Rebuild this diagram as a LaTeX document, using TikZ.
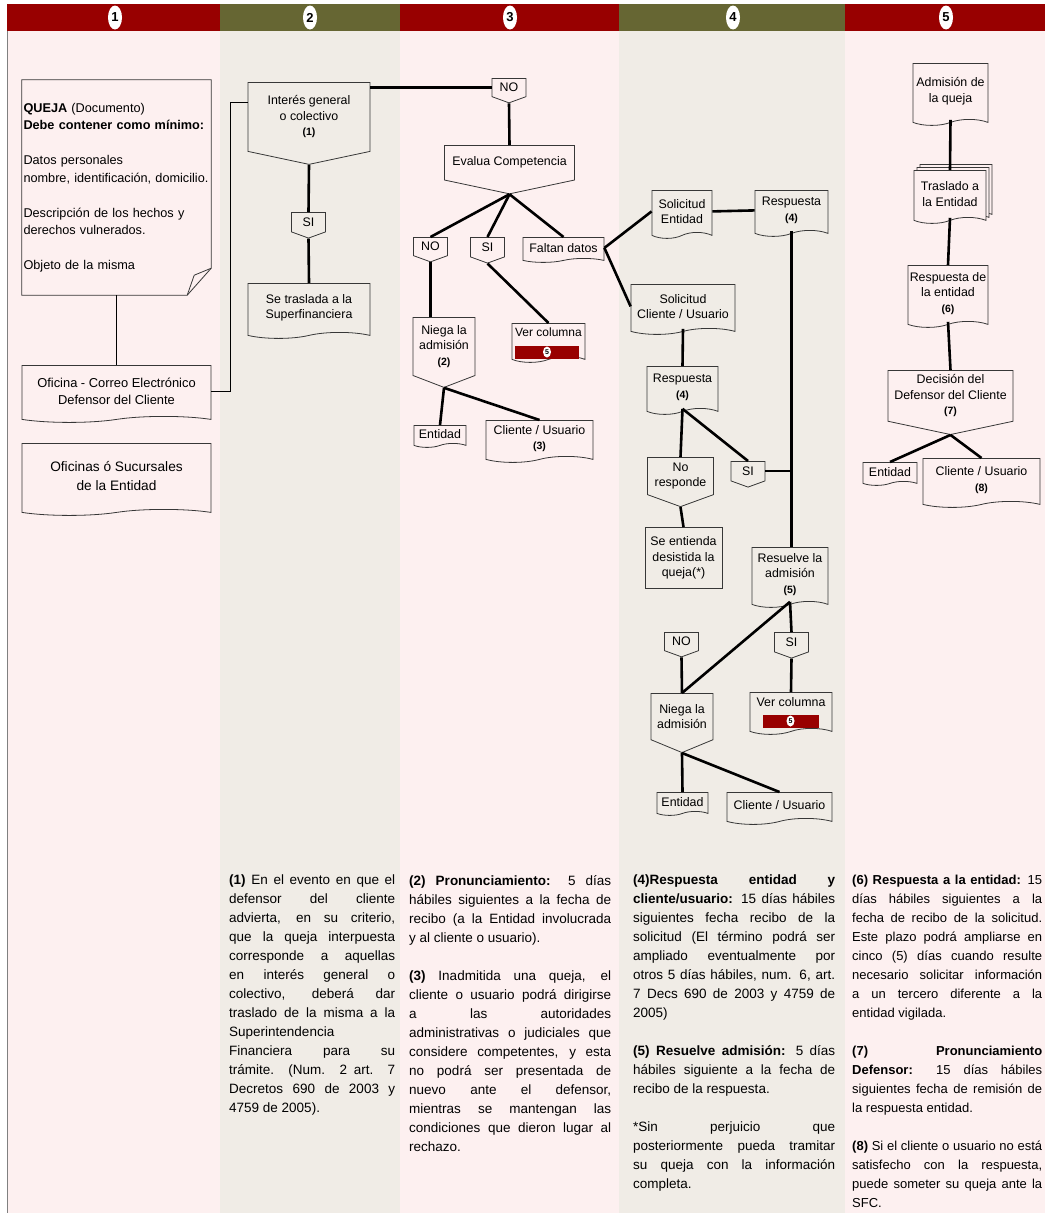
\documentclass[tikz,border=0pt]{standalone}
\usepackage{fontspec}
\setmainfont{Liberation Sans}
\usetikzlibrary{shapes.geometric,shapes.symbols,shadows}
\definecolor{hdred}{RGB}{152,0,0}
\definecolor{hdolive}{RGB}{102,102,51}
\definecolor{bgpink}{RGB}{253,240,240}
\definecolor{bggrey}{RGB}{240,236,230}
\definecolor{boxline}{RGB}{55,55,55}
\setlength{\parindent}{0pt}
\hbadness=10000 \hfuzz=6pt
\newcommand{\boxfont}{\fontsize{12.4}{15.5}\selectfont}
\newcommand{\numfont}{\bfseries\fontsize{10.5}{12}\selectfont}
\newcommand{\notefont}{\fontsize{13.5}{19}\selectfont\tolerance=10000\hyphenpenalty=10000}
\newcommand{\notegap}{\par\vskip 19pt}

\begin{document}
\begin{tikzpicture}[x=1pt, y=-1pt]
\tikzstyle{doc}=[tape, tape bend top=none, tape bend height=6pt, draw=boxline, line width=0.8pt, align=center, inner sep=1pt, font=\boxfont]
\tikzstyle{pent}=[signal, signal to=south, draw=boxline, line width=0.8pt, align=center, inner sep=1pt, font=\boxfont]
\tikzstyle{tag}=[pent, minimum width=34, minimum height=22, signal pointer angle=140]
\tikzstyle{plain}=[rectangle, draw=boxline, line width=0.8pt, align=center, font=\boxfont]
\tikzstyle{conn}=[line width=2.6pt]
\tikzstyle{thinconn}=[line width=0.8pt]
\tikzstyle{badge}=[ellipse, fill=white, inner sep=0pt, minimum width=14, minimum height=24, font=\bfseries\fontsize{13}{13}\selectfont]
\tikzstyle{minibadge}=[ellipse, fill=white, inner sep=0pt, minimum width=8, minimum height=11, font=\bfseries\fontsize{7}{7}\selectfont]
\tikzstyle{bar}=[fill=hdred, minimum height=13, inner sep=0pt]
\tikzstyle{note}=[anchor=north west, inner sep=0pt, align=justify, font=\notefont]

\useasboundingbox (0,0) rectangle (1045,1213);
\fill[white] (0,0) rectangle (1045,1213);
\foreach \xa/\xb/\hc/\bc in {7/220/hdred/bgpink, 220/400/hdolive/bggrey, 400/619/hdred/bgpink, 619/845/hdolive/bggrey, 845/1045/hdred/bgpink}{
  \fill[\bc] (\xa,31) rectangle (\xb,1213);
  \fill[\hc] (\xa,4) rectangle (\xb,31);
}
\draw[gray, line width=0.6pt] (7,31) -- (7,1213);
\node[badge] (h1) at (115,17.5) {1};
\node[badge] (h2) at (310,17.5) {2};
\node[badge] (h3) at (510,17.5) {3};
\node[badge] (h4) at (733,17.5) {4};
\node[badge] (h5) at (946,17.5) {5};

\node[align=left, minimum width=189, minimum height=215, text width=186, inner sep=1.5pt, font=\fontsize{12.7}{17.5}\selectfont] (queja) at (116.5,187.5) {\textbf{QUEJA} (Documento)\\
\textbf{Debe contener como mínimo:}\\[17.5pt]
Datos personales\\
nombre, identificación, domicilio.\\[17.5pt]
Descripción de los hechos y\\
derechos vulnerados.\\[17.5pt]
Objeto de la misma};
\draw[boxline, line width=0.8pt] (queja.north west) -- (queja.north east) -- ([yshift=27]queja.south east) -- ([xshift=-24]queja.south east) -- (queja.south west) -- cycle;
\draw[boxline, line width=0.8pt] ([yshift=27]queja.south east) -- ([xshift=-17,yshift=20]queja.south east) -- ([xshift=-24]queja.south east);
\node[doc, minimum width=189, minimum height=57, font=\fontsize{12.9}{17}\selectfont, anchor=north] (ofi) at (116.5,365) {Oficina - Correo Electrónico\\Defensor del Cliente};
\node[doc, minimum width=189, minimum height=72, font=\fontsize{13.7}{19}\selectfont, anchor=north] (suc) at (116.5,443) {Oficinas ó Sucursales\\de la Entidad};

\node[pent, minimum width=122, minimum height=78, signal pointer angle=156, anchor=north] (intg) at (309,82) {Interés general\\o colectivo\\{\numfont (1)}};
\node[tag, anchor=north] (si1) at (308.5,212) {SI};
\node[doc, minimum width=122, minimum height=55, anchor=north] (sup) at (309,283) {Se traslada a la\\Superfinanciera};

\node[tag, anchor=north] (no1) at (509,78) {NO};
\node[pent, minimum width=130, minimum height=47, signal pointer angle=156, anchor=north] (eval) at (509.5,145) {Evalua Competencia};
\node[tag, anchor=north] (no2) at (430.5,237) {NO};
\node[tag, anchor=north] (si2) at (487.5,237) {SI};
\node[doc, minimum width=81, minimum height=25, tape bend height=4pt, anchor=north] (falt) at (563.5,237) {Faltan datos};
\node[pent, minimum width=62, minimum height=68, signal pointer angle=138, anchor=north] (niega1) at (444,317) {Niega la\\admisión\\{\numfont (2)}};
\node[doc, minimum width=73, minimum height=39, text height=9pt, text depth=16pt, font=\fontsize{12}{15}\selectfont, anchor=north] (vc1) at (548.5,323) {Ver columna};
\node[bar, minimum width=64] (vc1bar) at (547,352) {};
\node[minibadge] (vc1num) at (vc1bar) {5};
\node[doc, minimum width=52, minimum height=22, tape bend height=4pt, anchor=north] (ent1) at (440,425) {Entidad};
\node[doc, minimum width=107, minimum height=42, anchor=north] (cli1) at (539.5,420) {Cliente / Usuario\\{\numfont (3)}};

\node[doc, minimum width=60, minimum height=48, anchor=north] (sole) at (682,190) {Solicitud\\Entidad};
\node[doc, minimum width=73, minimum height=46, anchor=north] (resp1) at (791.5,190) {Respuesta\\{\numfont (4)}};
\node[doc, minimum width=104, minimum height=50, anchor=north] (solc) at (683,284) {Solicitud\\Cliente / Usuario};
\node[doc, minimum width=71, minimum height=48, anchor=north] (resp2) at (682.5,366) {Respuesta\\{\numfont (4)}};
\node[pent, minimum width=66, minimum height=47, signal pointer angle=140, anchor=north] (noresp) at (680.5,457) {No\\responde};
\node[tag, anchor=north] (si3) at (748,461) {SI};
\node[plain, minimum width=77, minimum height=61, anchor=north] (desist) at (683.5,527) {Se entienda\\desistida la\\queja(*)};
\node[doc, minimum width=76, minimum height=60, anchor=north] (resu) at (790,547) {Resuelve la\\admisión\\{\numfont (5)}};
\node[tag, anchor=north] (no3) at (681.5,632) {NO};
\node[tag, anchor=north] (si4) at (791.5,632) {SI};
\node[pent, minimum width=62, minimum height=57, signal pointer angle=135, anchor=north] (niega2) at (682,693) {Niega la\\admisión};
\node[doc, minimum width=82, minimum height=42, text height=9pt, text depth=16pt, anchor=north] (vc2) at (791,692) {Ver columna};
\node[bar, minimum width=56] (vc2bar) at (790.5,721) {};
\node[minibadge] (vc2num) at (vc2bar) {5};
\node[doc, minimum width=51, minimum height=23, tape bend height=4pt, anchor=north] (ent2) at (682.5,792) {Entidad};
\node[doc, minimum width=105, minimum height=32, anchor=north] (cli2) at (779.5,792) {Cliente / Usuario};

\node[doc, minimum width=75, minimum height=62, anchor=north] (adm) at (950.5,63) {Admisión de\\la queja};
\node[doc, fill=bgpink, double copy shadow={shadow xshift=3pt, shadow yshift=3pt, fill=bgpink, draw=boxline}, minimum width=72, minimum height=53, anchor=north] (tras) at (950,170) {Traslado a\\la Entidad};
\node[doc, minimum width=80, minimum height=62, anchor=north] (resp6) at (948,265) {Respuesta de\\la entidad\\{\numfont (6)}};
\node[pent, minimum width=125, minimum height=63, signal pointer angle=156, anchor=north] (dec) at (950.5,370) {Decisión del\\Defensor del Cliente\\{\numfont (7)}};
\node[doc, minimum width=54, minimum height=23, tape bend height=4pt, anchor=north] (ent3) at (890,462) {Entidad};
\node[doc, minimum width=117, minimum height=49, anchor=north] (cli3) at (981.5,458) {Cliente / Usuario\\{\numfont (8)}};

\coordinate (j1) at (230,102);
\draw[line width=1.6pt] (queja.south) -- (ofi.north);
\draw[thinconn] (ofi.east) -| (j1) -- (j1 -| intg.west);
\draw[conn] (intg.south) -- (si1.north);
\draw[conn] (si1.south) -- (sup.north);
\draw[conn] (intg.north east |- no1.west) -- (no1.west);
\draw[conn] (no1.south) -- (eval.north);
\draw[conn] (eval.south) -- (no2.north);
\draw[conn] (eval.south) -- (si2.north);
\draw[conn] (eval.south) -- (falt.north);
\draw[conn] (no2.south) -- (no2.south |- niega1.north);
\draw[conn] (si2.south) -- (vc1.north);
\draw[conn] (niega1.south) -- (ent1.north);
\draw[conn] (niega1.south) -- (cli1.north);
\draw[conn] (falt.east) -- (sole.west);
\draw[conn] (falt.east) -- (solc.west);
\draw[conn] (sole.east) -- (resp1.west);
\draw[conn] (resp1.south) -- (resp1.south |- resu.north);
\draw[conn] (si3.east) -- (si3.east -| resp1.south);
\draw[conn] (solc.south) -- (resp2.north);
\draw[conn] (resp2.south) -- (noresp.north);
\draw[conn] (resp2.south) -- (si3.north);
\draw[conn] (noresp.south) -- (desist.north);
\draw[conn] (resu.south) -- (si4.north);
\draw[conn] (si4.south) -- (vc2.north);
\draw[conn] (resu.south) -- (niega2.north);
\draw[conn] (no3.south) -- (niega2.north);
\draw[conn] (niega2.south) -- (ent2.north);
\draw[conn] (niega2.south) -- (cli2.north);
\draw[conn] (adm.south) -- (tras.north);
\draw[conn] (tras.south) -- (resp6.north);
\draw[conn] (resp6.south) -- (dec.north);
\draw[conn] (dec.south) -- (ent3.north);
\draw[conn] (dec.south) -- (cli3.north);

\node[note, text width=166] (n1) at (229,875) {\textbf{(1)} En el evento en que el\linebreak defensor del cliente\linebreak advierta, en su criterio,\linebreak que la queja interpuesta\linebreak corresponde a aquellas\linebreak en interés general o\linebreak colectivo, deberá dar\linebreak traslado de la misma a la\linebreak Superintendencia\linebreak Financiera para su\linebreak trámite. (Num. 2 art. 7\linebreak Decretos 690 de 2003 y\linebreak 4759 de 2005).};
\node[note, text width=202] (n2) at (409,875) {\textbf{(2) Pronunciamiento:} 5 días\linebreak hábiles siguientes a la fecha de\linebreak recibo (a la Entidad involucrada\linebreak y al cliente o usuario).\notegap
\textbf{(3)} Inadmitida una queja, el\linebreak cliente o usuario podrá dirigirse\linebreak a las autoridades\linebreak administrativas o judiciales que\linebreak considere competentes, y esta\linebreak no podrá ser presentada de\linebreak nuevo ante el defensor,\linebreak mientras se mantengan las\linebreak condiciones que dieron lugar al\linebreak rechazo.};
\node[note, text width=202] (n3) at (633,875) {\textbf{(4)Respuesta entidad y}\linebreak \textbf{cliente/usuario:} 15 días hábiles\linebreak siguientes fecha recibo de la\linebreak solicitud (El término podrá ser\linebreak ampliado eventualmente por\linebreak otros 5 días hábiles, num. 6, art.\linebreak 7 Decs 690 de 2003 y 4759 de\linebreak 2005)\notegap
\textbf{(5) Resuelve admisión:} 5 días\linebreak hábiles siguiente a la fecha de\linebreak recibo de la respuesta.\notegap
*Sin perjuicio que\linebreak posteriormente pueda tramitar\linebreak su queja con la información\linebreak completa.};
\node[note, text width=190, font=\fontsize{13}{19}\selectfont] (n4) at (852,875) {\textbf{(6) Respuesta a la entidad:} 15\linebreak días hábiles siguientes a la\linebreak fecha de recibo de la solicitud.\linebreak Este plazo podrá ampliarse en\linebreak cinco (5) días cuando resulte\linebreak necesario solicitar información\linebreak a un tercero diferente a la\linebreak entidad vigilada.\notegap
\textbf{(7) Pronunciamiento}\linebreak \textbf{Defensor:} 15 días hábiles\linebreak siguientes fecha de remisión de\linebreak la respuesta entidad.\notegap
\textbf{(8)} Si el cliente o usuario no está\linebreak satisfecho con la respuesta,\linebreak puede someter su queja ante la\linebreak SFC.};
\end{tikzpicture}
\end{document}
